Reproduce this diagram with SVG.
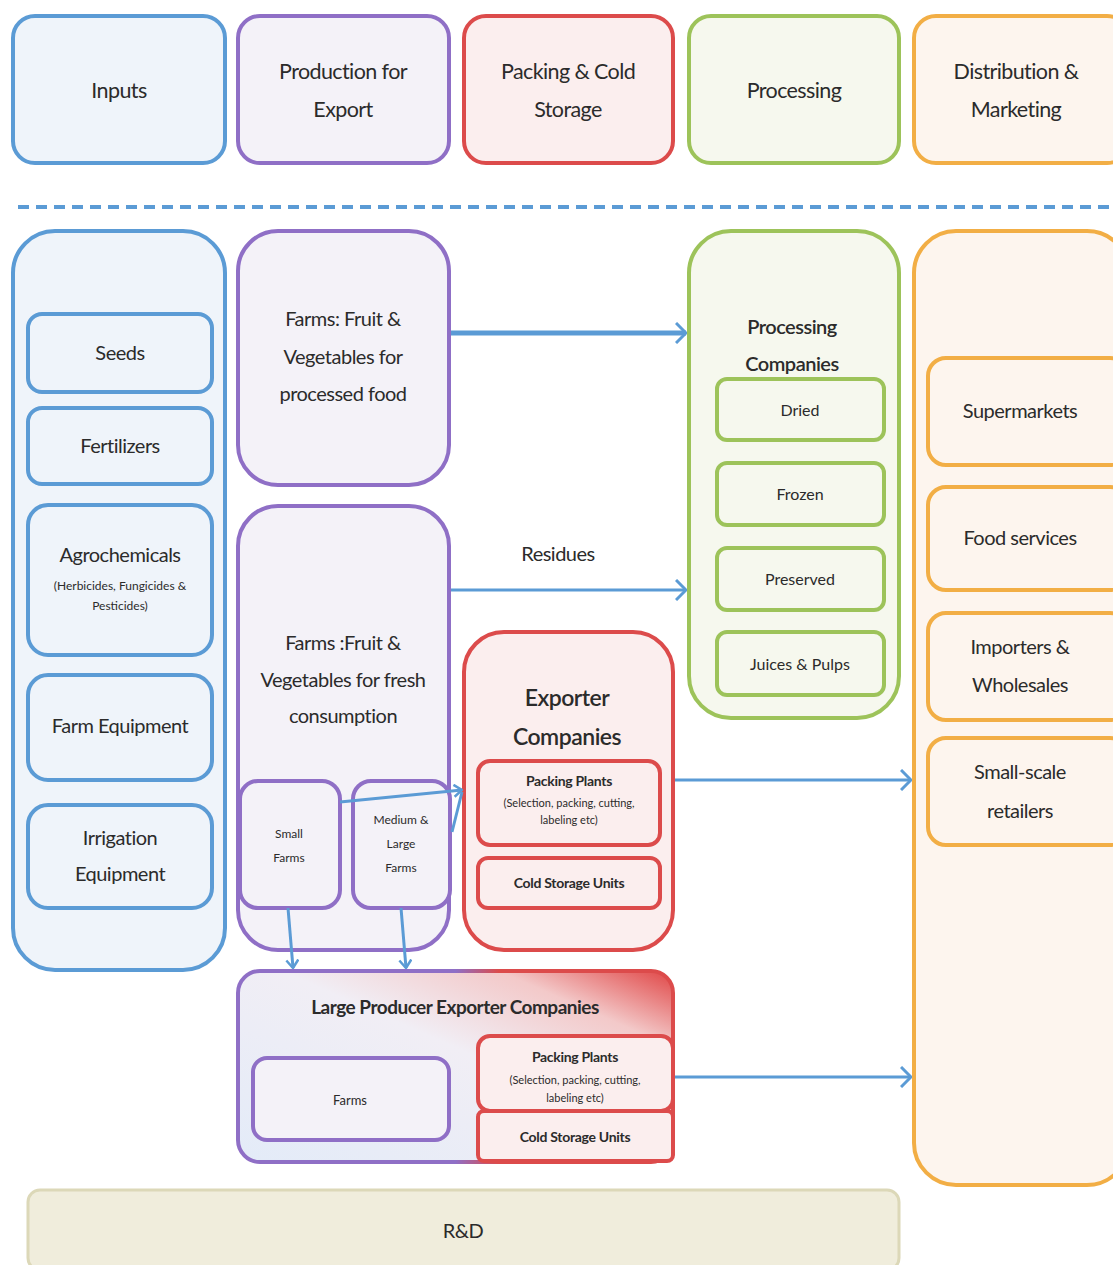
<svg xmlns="http://www.w3.org/2000/svg" width="1113" height="1265" viewBox="0 0 1113 1265">
<defs>
<style>
text{font-family:Lato,"Open Sans","Liberation Sans",sans-serif;fill:#2b2b2b;text-anchor:middle}
.b{fill:#EFF4FA;stroke:#5B9BD5;stroke-width:4}
.p{fill:#F4F2F8;stroke:#8F6FC6;stroke-width:4}
.r{fill:#FBEEEE;stroke:#DC4B4B;stroke-width:4}
.g{fill:#F6F8EE;stroke:#9DC35A;stroke-width:4}
.o{fill:#FDF5EE;stroke:#F2AE45;stroke-width:4}
.h{font-size:21.5px;letter-spacing:-0.6px}
.m{font-size:20px;letter-spacing:-0.5px}
.s{font-size:16px}
.xs{font-size:12px}
.k{font-size:14px;font-weight:bold;letter-spacing:-0.3px}
.c{stroke:#5B9BD5;fill:none;stroke-width:3}
</style>
<marker id="ah" viewBox="0 0 12 22" markerWidth="12" markerHeight="22" refX="11" refY="11" orient="auto" markerUnits="userSpaceOnUse">
<path d="M1,1 L11,11 L1,21" fill="none" stroke="#5B9BD5" stroke-width="3"/>
</marker>
<marker id="ahs" viewBox="0 0 10 14" markerWidth="10" markerHeight="14" refX="9" refY="7" orient="auto" markerUnits="userSpaceOnUse">
<path d="M1,1 L9,7 L1,13" fill="none" stroke="#5B9BD5" stroke-width="2.5"/>
</marker>
<linearGradient id="lpg" x1="0" y1="1" x2="1" y2="0">
<stop offset="0" stop-color="#E3EBF8"/>
<stop offset="0.55" stop-color="#F1EEF5"/>
<stop offset="0.8" stop-color="#F3C9C9"/>
<stop offset="1" stop-color="#E04545"/>
</linearGradient>
<linearGradient id="lps" x1="0" y1="0" x2="1" y2="0">
<stop offset="0" stop-color="#8F6FC6"/>
<stop offset="0.5" stop-color="#8F6FC6"/>
<stop offset="0.6" stop-color="#DC4B4B"/>
<stop offset="1" stop-color="#DC4B4B"/>
</linearGradient>
</defs>
<rect width="1113" height="1265" fill="#ffffff"/>

<g id="header-inputs"><rect class="b" x="13" y="16" width="212" height="147" rx="22"/><text class="h" x="119" y="98">Inputs</text></g>
<g id="header-production"><rect class="p" x="238" y="16" width="211" height="147" rx="22"/><text class="h" x="343" y="79">Production for</text><text class="h" x="343" y="117">Export</text></g>
<g id="header-packing"><rect class="r" x="464" y="16" width="209" height="147" rx="22"/><text class="h" x="568" y="79">Packing &amp; Cold</text><text class="h" x="568" y="117">Storage</text></g>
<g id="header-processing"><rect class="g" x="689" y="16" width="210" height="147" rx="22"/><text class="h" x="794" y="98">Processing</text></g>
<g id="header-distribution"><rect class="o" x="914" y="16" width="215" height="147" rx="22"/><text class="h" x="1016" y="79">Distribution &amp;</text><text class="h" x="1016" y="117">Marketing</text></g>

<line x1="18" y1="207" x2="1113" y2="207" stroke="#5B9BD5" stroke-width="4" stroke-dasharray="11,7"/>

<g id="inputs">
<rect class="b" x="13" y="231" width="212" height="739" rx="42"/>
<g id="seeds"><rect class="b" x="28" y="314" width="184" height="78" rx="14"/><text class="m" x="120" y="360">Seeds</text></g>
<g id="fertilizers"><rect class="b" x="28" y="408" width="184" height="76" rx="14"/><text class="m" x="120" y="453">Fertilizers</text></g>
<g id="agrochemicals"><rect class="b" x="28" y="505" width="184" height="150" rx="20"/><text class="m" x="120" y="562">Agrochemicals</text><text class="xs" x="120" y="590">(Herbicides, Fungicides &amp;</text><text class="xs" x="120" y="610">Pesticides)</text></g>
<g id="farm-equipment"><rect class="b" x="28" y="675" width="184" height="105" rx="20"/><text class="m" x="120" y="733">Farm Equipment</text></g>
<g id="irrigation"><rect class="b" x="28" y="805" width="184" height="103" rx="20"/><text class="m" x="120" y="845">Irrigation</text><text class="m" x="120" y="881">Equipment</text></g>
</g>

<g id="farms-processed"><rect class="p" x="238" y="231" width="211" height="254" rx="40"/><text class="m" x="343" y="326">Farms: Fruit &amp;</text><text class="m" x="343" y="364">Vegetables  for</text><text class="m" x="343" y="401">processed food</text></g>

<g id="farms-fresh">
<rect class="p" x="238" y="506" width="211" height="444" rx="40"/>
<text class="m" x="343" y="650">Farms :Fruit &amp;</text><text class="m" x="343" y="687">Vegetables  for fresh</text><text class="m" x="343" y="723">consumption</text>
<g id="small-farms"><rect class="p" x="240" y="781" width="100" height="127" rx="18"/><text class="xs" x="289" y="838">Small</text><text class="xs" x="289" y="862">Farms</text></g>
<g id="medium-large-farms"><rect class="p" x="353" y="781" width="97" height="127" rx="18"/><text class="xs" x="401" y="824">Medium &amp;</text><text class="xs" x="401" y="848">Large</text><text class="xs" x="401" y="872">Farms</text></g>
</g>

<g id="processing-companies">
<rect class="g" x="689" y="231" width="210" height="487" rx="42"/>
<text class="m" x="792" y="334" font-weight="600">Processing</text><text class="m" x="792" y="371" font-weight="600">Companies</text>
<g id="dried"><rect class="g" x="717" y="379" width="167" height="61" rx="10"/><text class="s" x="800" y="416">Dried</text></g>
<g id="frozen"><rect class="g" x="717" y="463" width="167" height="62" rx="10"/><text class="s" x="800" y="500">Frozen</text></g>
<g id="preserved"><rect class="g" x="717" y="548" width="167" height="62" rx="10"/><text class="s" x="800" y="585">Preserved</text></g>
<g id="juices"><rect class="g" x="717" y="632" width="167" height="63" rx="10"/><text class="s" x="800" y="670">Juices &amp; Pulps</text></g>
</g>

<g id="exporter-companies">
<rect class="r" x="464" y="632" width="209" height="318" rx="40"/>
<text x="567" y="706" font-size="23" font-weight="600" letter-spacing="-0.5">Exporter</text><text x="567" y="745" font-size="23" font-weight="600" letter-spacing="-0.5">Companies</text>
<g id="exp-packing"><rect class="r" x="478" y="761" width="182" height="84" rx="12"/><text class="k" x="569" y="786">Packing  Plants</text><text x="569" y="807" font-size="11">(Selection, packing, cutting,</text><text x="569" y="824" font-size="11">labeling etc)</text></g>
<g id="exp-cold"><rect class="r" x="478" y="858" width="182" height="50" rx="10"/><text class="k" x="569" y="888">Cold Storage  Units</text></g>
</g>

<g id="distribution">
<rect class="o" x="914" y="231" width="215" height="954" rx="42"/>
<g id="supermarkets"><rect class="o" x="928" y="358" width="200" height="107" rx="18"/><text class="m" x="1020" y="418">Supermarkets</text></g>
<g id="food-services"><rect class="o" x="928" y="487" width="200" height="103" rx="18"/><text class="m" x="1020" y="545">Food  services</text></g>
<g id="importers"><rect class="o" x="928" y="613" width="200" height="107" rx="18"/><text class="m" x="1020" y="654">Importers &amp;</text><text class="m" x="1020" y="692">Wholesales</text></g>
<g id="retailers"><rect class="o" x="928" y="738" width="200" height="107" rx="18"/><text class="m" x="1020" y="779">Small-scale</text><text class="m" x="1020" y="818">retailers</text></g>
</g>

<g id="large-producer">
<rect x="238" y="971" width="435" height="191" rx="22" fill="url(#lpg)" stroke="url(#lps)" stroke-width="4"/>
<text x="455" y="1014" font-size="19" font-weight="bold" letter-spacing="-0.5">Large Producer Exporter Companies</text>
<g id="lp-farms"><rect class="p" x="253" y="1058" width="196" height="82" rx="14"/><text x="350" y="1105" font-size="13">Farms</text></g>
<g id="lp-packing"><rect class="r" x="478" y="1036" width="195" height="75" rx="12"/><text class="k" x="575" y="1062">Packing  Plants</text><text x="575" y="1084" font-size="11">(Selection, packing, cutting,</text><text x="575" y="1102" font-size="11">labeling etc)</text></g>
<g id="lp-cold"><rect class="r" x="478" y="1111" width="195" height="50" rx="6"/><text class="k" x="575" y="1142">Cold Storage  Units</text></g>
</g>

<g id="rnd"><rect x="28" y="1190" width="871" height="80" rx="12" fill="#F0EDDC" stroke="#DCD8B8" stroke-width="3"/><text class="m" x="463" y="1238">R&amp;D</text></g>

<g id="connectors">
<line x1="451" y1="333" x2="686" y2="333" stroke="#5B9BD5" stroke-width="5" marker-end="url(#ah)"/>
<line class="c" x1="451" y1="590" x2="686" y2="590" marker-end="url(#ah)"/>
<text class="m" x="558" y="561">Residues</text>
<line class="c" x1="675" y1="780" x2="911" y2="780" marker-end="url(#ah)"/>
<line class="c" x1="675" y1="1077" x2="911" y2="1077" marker-end="url(#ah)"/>
<line class="c" x1="340" y1="802" x2="462" y2="790" marker-end="url(#ahs)"/>
<line class="c" x1="452" y1="832" x2="462" y2="792"/>
<line class="c" x1="288" y1="908" x2="293" y2="968" marker-end="url(#ahs)"/>
<line class="c" x1="401" y1="908" x2="406" y2="968" marker-end="url(#ahs)"/>
</g>
</svg>
